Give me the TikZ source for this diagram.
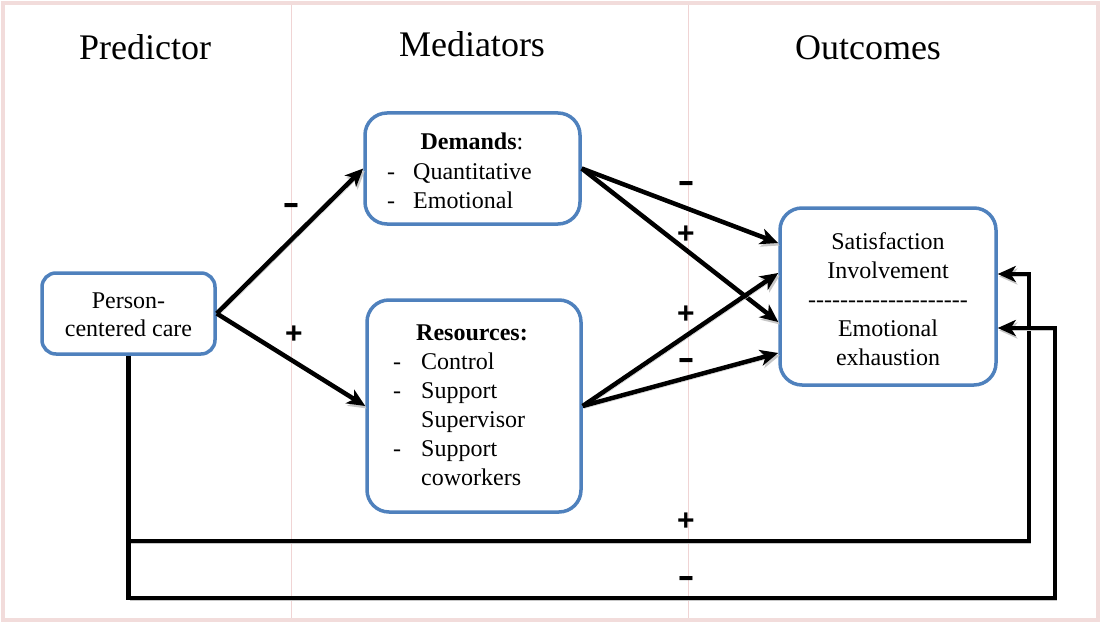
\documentclass[tikz,border=0pt]{standalone}
\usepackage{fontspec}
\setmainfont{Liberation Serif}
\newfontfamily\signfont{Liberation Sans}
\usetikzlibrary{arrows.meta}
\definecolor{boxblue}{RGB}{79,129,189}
\definecolor{framepink}{RGB}{242,220,219}
\definecolor{guidepink}{RGB}{240,212,212}
\tikzset{
  box/.style={draw=boxblue, line width=3.5pt, fill=white, rounded corners=22pt, inner sep=0pt},
  txt/.style={font=\fontsize{24}{29}\selectfont, inner sep=0pt},
  head/.style={font=\fontsize{36}{40}\selectfont, inner sep=0pt, anchor=base},
  conn/.style={line width=4.5pt, -{Stealth[length=18pt,width=16pt,inset=5pt]},
    preaction={draw=black!22, transform canvas={shift={(1.5pt,-2.5pt)}}}},
  sign/.style={font=\signfont\bfseries\fontsize{30}{30}\selectfont, inner sep=0pt},
}
\newcommand{\minussign}{\scalebox{1.7}[1.15]{-}}
\begin{document}
\begin{tikzpicture}[x=1pt,y=-1pt]
\useasboundingbox (0,0) rectangle (1101,623);
% frame and column guides
\draw[framepink, line width=3.5pt] (3,3) rectangle (1098,620);
\draw[guidepink, line width=0.8pt] (291,5) -- (291,618);
\draw[guidepink, line width=0.8pt] (688,5) -- (688,618);

% column headings
\node[head] (hpred) at (145,60) {Predictor};
\node[head] (hmed) at (472,57) {Mediators};
\node[head] (hout) at (868,60) {Outcomes};

% corners of the two feedback loops
\coordinate (fbA) at (1029,541);
\coordinate (fbB) at (1055,598);

% boxes
\node[box, rounded corners=14pt, minimum width=173pt, minimum height=81pt] (per) at (128.5,313.5) {};
\node[box, minimum width=215pt, minimum height=111pt] (dem) at (472.5,168.5) {};
\node[box, minimum width=214pt, minimum height=212pt] (res) at (474,406) {};
\node[box, minimum width=216pt, minimum height=177pt] (out) at (888,296.5) {};

% connectors
\draw[conn] (per.east) -- (dem.west);
\draw[conn] (per.east) -- (res.west);
\draw[conn] (dem.east) -- ([yshift=53.5pt]out.west);
\draw[conn] (dem.east) -- ([yshift=-25.5pt]out.west);
\draw[conn] (res.east) -- ([yshift=23.5pt]out.west);
\draw[conn] (res.east) -- ([yshift=-56.5pt]out.west);
\draw[conn] (per.south) |- (fbA) |- ([yshift=22.5pt]out.east);
\draw[conn] (per.south) |- (fbB) |- ([yshift=-31.5pt]out.east);

% box texts
\node[txt, anchor=base] (per1) at (128.5,308) {Person-};
\node[txt, anchor=base] (per2) at (128.5,336) {centered care};

\node[txt, anchor=base] (dem0) at (472,150) {\textbf{Demands}:};
\node[txt, anchor=base] (demd1) at (391,179) {-};
\node[txt, anchor=base west] (dem1) at (413,179) {Quantitative};
\node[txt, anchor=base] (demd2) at (391,208) {-};
\node[txt, anchor=base west] (dem2) at (413,208) {Emotional};

\node[txt, anchor=base] (res0) at (472,340) {\textbf{Resources:}};
\node[txt, anchor=base] (resd1) at (397,369) {-};
\node[txt, anchor=base west] (res1) at (421,369) {Control};
\node[txt, anchor=base] (resd2) at (397,398) {-};
\node[txt, anchor=base west] (res2) at (421,398) {Support};
\node[txt, anchor=base west] (res3) at (421,427) {Supervisor};
\node[txt, anchor=base] (resd4) at (397,456) {-};
\node[txt, anchor=base west] (res4) at (421,456) {Support};
\node[txt, anchor=base west] (res5) at (421,485) {coworkers};

\node[txt, anchor=base] (out1) at (888,249) {Satisfaction};
\node[txt, anchor=base] (out2) at (888,278) {Involvement};
\node[txt, anchor=base] (out3) at (888,307) {-{}-{}-{}-{}-{}-{}-{}-{}-{}-{}-{}-{}-{}-{}-{}-{}-{}-{}-{}-};
\node[txt, anchor=base] (out4) at (888,336) {Emotional};
\node[txt, anchor=base] (out5) at (888,365) {exhaustion};

% signs
\node[sign] (s1) at (291,209) {\minussign};
\node[sign] (s2) at (294,335) {+};
\node[sign] (s3) at (686,187) {\minussign};
\node[sign] (s4) at (686,235) {+};
\node[sign] (s5) at (686,315) {+};
\node[sign] (s6) at (686,364) {\minussign};
\node[sign] (s7) at (686,522) {+};
\node[sign] (s8) at (686,582) {\minussign};
\end{tikzpicture}
\end{document}
